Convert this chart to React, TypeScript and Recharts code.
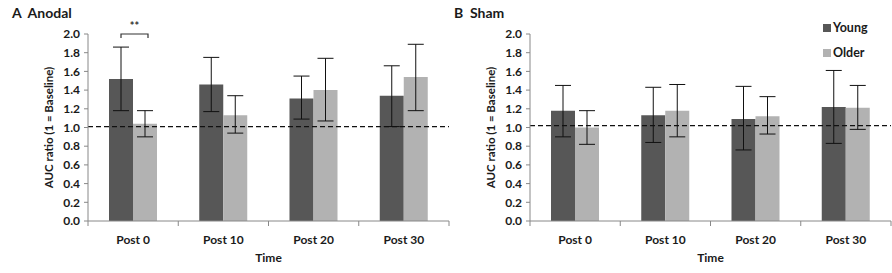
import React from "react";
import {
  BarChart,
  Bar,
  XAxis,
  YAxis,
  ErrorBar,
  ReferenceLine,
  Legend,
  LabelList,
} from "recharts";

// values
const categories = ["Post 0", "Post 10", "Post 20", "Post 30"];
const seriesNames = ["Young", "Older"];

const anodalYoung = [1.52, 1.46, 1.31, 1.34];
const anodalYoungLow = [1.18, 1.17, 1.09, 1.01];
const anodalYoungHigh = [1.86, 1.75, 1.55, 1.66];
const anodalOlder = [1.04, 1.13, 1.4, 1.54];
const anodalOlderLow = [0.9, 0.94, 1.07, 1.18];
const anodalOlderHigh = [1.18, 1.34, 1.74, 1.89];

const shamYoung = [1.18, 1.13, 1.09, 1.22];
const shamYoungLow = [0.9, 0.84, 0.76, 0.83];
const shamYoungHigh = [1.45, 1.43, 1.44, 1.61];
const shamOlder = [1.0, 1.18, 1.12, 1.21];
const shamOlderLow = [0.82, 0.9, 0.93, 0.98];
const shamOlderHigh = [1.18, 1.46, 1.33, 1.45];

const yTicks = [0, 0.2, 0.4, 0.6, 0.8, 1.0, 1.2, 1.4, 1.6, 1.8, 2.0];
const baselineAnodal = 1.01;
const baselineSham = 1.02;

// significance marks: category index, bracket level, label
const anodalSig = [{ index: 0, level: 2.0, label: "**" }];

const W = 450;
const H = 273;
const MARGIN = { top: 34, right: 1, left: 0, bottom: 22 };
const YAXIS_W = 88;
const XAXIS_H = 30;
const PLOT_W = W - MARGIN.left - MARGIN.right - YAXIS_W;
const PLOT_BOTTOM = H - MARGIN.bottom - XAXIS_H;

const DARK = "#575757";
const LIGHT = "#b2b2b2";
const AXIS = "#888888";
const TEXT = "#1a1a1a";
const FONT = "Lato, 'Open Sans', sans-serif";

function buildRows(
  young: number[],
  yLow: number[],
  yHigh: number[],
  older: number[],
  oLow: number[],
  oHigh: number[]
) {
  return categories.map((time, i) => ({
    time,
    young: young[i],
    older: older[i],
    youngErr: [young[i] - yLow[i], yHigh[i] - young[i]],
    olderErr: [older[i] - oLow[i], oHigh[i] - older[i]],
  }));
}

const anodalRows = buildRows(
  anodalYoung,
  anodalYoungLow,
  anodalYoungHigh,
  anodalOlder,
  anodalOlderLow,
  anodalOlderHigh
);
const shamRows = buildRows(
  shamYoung,
  shamYoungLow,
  shamYoungHigh,
  shamOlder,
  shamOlderLow,
  shamOlderHigh
);

function TimeTick(props: any) {
  const { x, payload, index } = props;
  const band = PLOT_W / categories.length;
  return (
    <g>
      <line x1={x - band / 2} x2={x - band / 2} y1={PLOT_BOTTOM} y2={PLOT_BOTTOM + 5} stroke={AXIS} />
      {index === categories.length - 1 && (
        <line x1={x + band / 2} x2={x + band / 2} y1={PLOT_BOTTOM} y2={PLOT_BOTTOM + 5} stroke={AXIS} />
      )}
      <text x={x} y={PLOT_BOTTOM + 23} textAnchor="middle" fill={TEXT} fontSize={12} fontWeight="bold" fontFamily={FONT}>
        {payload.value}
      </text>
    </g>
  );
}

function SigMark(props: any) {
  const { x, y, width, height, index, value } = props;
  const mark = anodalSig.find((s) => s.index === index);
  if (!mark) return null;
  const bottom = y + height;
  const perUnit = height / value;
  const top = bottom - mark.level * perUnit;
  const x1 = x + width / 2;
  const x2 = x + width * 1.5 + 3;
  return (
    <g>
      <path d={`M${x1},${top + 4}V${top}H${x2}V${top + 4}`} fill="none" stroke="#333" strokeWidth={1.2} />
      <text x={(x1 + x2) / 2} y={top - 4} textAnchor="middle" fontSize={11} fontWeight="bold" fill="#333" fontFamily={FONT}>
        {mark.label}
      </text>
    </g>
  );
}

function LegendBox(props: any) {
  const items = [...(props.payload || [])].sort(
    (a: any, b: any) => seriesNames.indexOf(a.value) - seriesNames.indexOf(b.value)
  );
  return (
    <div style={{ fontFamily: FONT, fontSize: 12.5, fontWeight: "bold", color: TEXT }}>
      {items.map((p: any) => (
        <div key={p.value} style={{ display: "flex", alignItems: "center", height: 25 }}>
          <span style={{ width: 8, height: 8, background: p.color, marginRight: 2, display: "inline-block" }} />
          {p.value}
        </div>
      ))}
    </div>
  );
}

function Panel({
  title,
  rows,
  baseline,
  showLegend,
  showSig,
}: {
  title: string;
  rows: any[];
  baseline: number;
  showLegend?: boolean;
  showSig?: boolean;
}) {
  return (
    <div style={{ position: "relative", width: W, height: H }}>
      <div
        style={{
          position: "absolute",
          left: 12,
          top: 4,
          fontFamily: FONT,
          fontWeight: "bold",
          fontSize: 14,
          color: TEXT,
          whiteSpace: "pre",
        }}
      >
        {title}
      </div>
      <BarChart width={W} height={H} data={rows} margin={MARGIN} barGap={0} barSize={24}>
        <XAxis
          dataKey="time"
          height={XAXIS_H}
          axisLine={{ stroke: AXIS }}
          tickLine={false}
          tick={<TimeTick />}
          interval={0}
          label={{
            value: "Time",
            position: "insideBottom",
            offset: -11,
            fill: TEXT,
            fontSize: 12,
            fontWeight: "bold",
            fontFamily: FONT,
          }}
        />
        <YAxis
          width={YAXIS_W}
          domain={[0, 2]}
          ticks={yTicks}
          interval={0}
          tickFormatter={(v: number) => v.toFixed(1)}
          axisLine={{ stroke: AXIS }}
          tickLine={{ stroke: AXIS }}
          tickSize={4}
          tickMargin={4}
          tick={{ fill: TEXT, fontSize: 12, fontWeight: "bold", fontFamily: FONT }}
          label={{
            value: "AUC ratio (1 = Baseline)",
            angle: -90,
            position: "center",
            dx: 5,
            fill: TEXT,
            fontSize: 11.5,
            fontWeight: "bold",
            fontFamily: FONT,
          }}
        />
        {showLegend && (
          <Legend
            layout="vertical"
            align="center"
            verticalAlign="middle"
            wrapperStyle={{ top: 15, left: 381, width: 70 }}
            content={<LegendBox />}
          />
        )}
        <Bar dataKey="young" name="Young" fill={DARK} isAnimationActive={false}>
          <ErrorBar dataKey="youngErr" width={8} stroke="#111" strokeWidth={1} direction="y" isAnimationActive={false} />
          {showSig && <LabelList dataKey="young" content={<SigMark />} />}
        </Bar>
        <Bar dataKey="older" name="Older" fill={LIGHT} isAnimationActive={false}>
          <ErrorBar dataKey="olderErr" width={8} stroke="#111" strokeWidth={1} direction="y" isAnimationActive={false} />
        </Bar>
        <ReferenceLine y={baseline} stroke="#111" strokeWidth={1.2} strokeDasharray="5 3" ifOverflow="extendDomain" />
      </BarChart>
    </div>
  );
}

export default function App() {
  return (
    <div style={{ position: "absolute", left: 0, top: 0, width: 892, height: 273, background: "#fff" }}>
      <div style={{ position: "absolute", left: 0, top: 0 }}>
        <Panel title={"A  Anodal"} rows={anodalRows} baseline={baselineAnodal} showSig />
      </div>
      <div style={{ position: "absolute", left: 442, top: 0 }}>
        <Panel title={"B  Sham"} rows={shamRows} baseline={baselineSham} showLegend />
      </div>
    </div>
  );
}
